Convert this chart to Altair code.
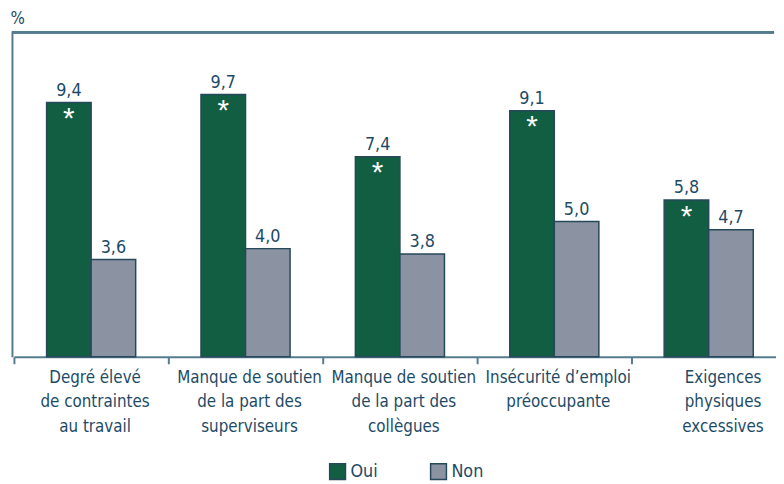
import altair as alt
import pandas as pd

categories = [
    "Degré élevé|de contraintes|au travail",
    "Manque de soutien|de la part des|superviseurs",
    "Manque de soutien|de la part des|collègues",
    "Insécurité d’emploi|préoccupante",
    "Exigences|physiques|excessives",
]
oui_values = [9.4, 9.7, 7.4, 9.1, 5.8]
non_values = [3.6, 4.0, 3.8, 5.0, 4.7]
oui_star = ["*", "*", "*", "*", "*"]
groups = ["Oui", "Non"]

rows = []
for c, o, n, s in zip(categories, oui_values, non_values, oui_star):
    rows.append({"cat": c, "grp": "Oui", "val": o, "star": s})
    rows.append({"cat": c, "grp": "Non", "val": n, "star": ""})
df = pd.DataFrame(rows)
df["lbl"] = df["val"].map(lambda v: f"{v:.1f}".replace(".", ","))

TEXT = "#1d4b66"
FRAME = "#557c8e"
FONT = "DejaVu Sans Condensed, Roboto, sans-serif"

x_enc = alt.X(
    "cat:N",
    sort=categories,
    scale=alt.Scale(range=[2, 782], paddingInner=0, paddingOuter=0),
    axis=alt.Axis(
        title=None,
        labelExpr="split(datum.label, '|')",
        labelAngle=0,
        labelFont=FONT,
        labelFontSize=17,
        labelColor=TEXT,
        labelLineHeight=24.5,
        labelBaseline="top",
        labelPadding=6,
        labelOffset={"condition": {"test": "datum.index == 1", "value": 14}, "value": 3.5},
        tickBand="extent",
        tickSize=7,
        tickWidth=2,
        tickColor=FRAME,
        domainColor=FRAME,
        domainWidth=2,
        labelLimit=300,
    ),
)
xoff = alt.XOffset("grp:N", sort=groups, scale=alt.Scale(paddingOuter=0.733, paddingInner=0))
y_enc = alt.Y(
    "val:Q",
    scale=alt.Scale(domain=[0, 12]),
    axis=alt.Axis(
        title="%",
        labels=False,
        ticks=False,
        grid=False,
        domainColor=FRAME,
        domainWidth=2,
        titleAngle=0,
        titleX=-2,
        titleY=-9,
        titleAlign="left",
        titleBaseline="alphabetic",
        titleFont=FONT,
        titleFontSize=17,
        titleFontWeight="normal",
        titleColor=TEXT,
    ),
)

base = alt.Chart(df)

bars = base.mark_bar(stroke="#26485a", strokeWidth=1.5).encode(
    x=x_enc,
    xOffset=xoff,
    y=y_enc,
    color=alt.Color(
        "grp:N",
        sort=groups,
        scale=alt.Scale(domain=groups, range=["#125e42", "#8b93a3"]),
        legend=alt.Legend(
            title=None,
            orient="none",
            direction="horizontal",
            legendX=320,
            legendY=435,
            symbolType="square",
            symbolSize=256,
            symbolStrokeColor="#26485a",
            symbolStrokeWidth=1.5,
            symbolOpacity=1,
            labelFont=FONT,
            labelFontSize=18,
            labelColor=TEXT,
            columnPadding=50,
            labelOffset=4,
        ),
    ),
)

labels = base.mark_text(
    baseline="alphabetic", dy=-7, font=FONT, fontSize=18, color=TEXT
).encode(x=alt.X("cat:N", sort=categories), xOffset=xoff, y="val:Q", text="lbl:N")

stars = base.mark_text(
    baseline="top", dy=2, font="Liberation Sans", fontSize=30, color="white"
).encode(x=alt.X("cat:N", sort=categories), xOffset=xoff, y="val:Q", text="star:N")

top_rule = base.mark_rule(color=FRAME, strokeWidth=2).encode(y=alt.value(0))

chart = (
    alt.layer(bars, labels, stars, top_rule)
    .properties(
        width=770,
        height=328,
        padding={"left": 4, "top": 22, "right": 2, "bottom": 124},
        autosize=alt.AutoSizeParams(type="none"),
    )
    .configure_view(stroke=None)
)

chart.save("out.html", embed_options={"renderer": "svg", "actions": False})
